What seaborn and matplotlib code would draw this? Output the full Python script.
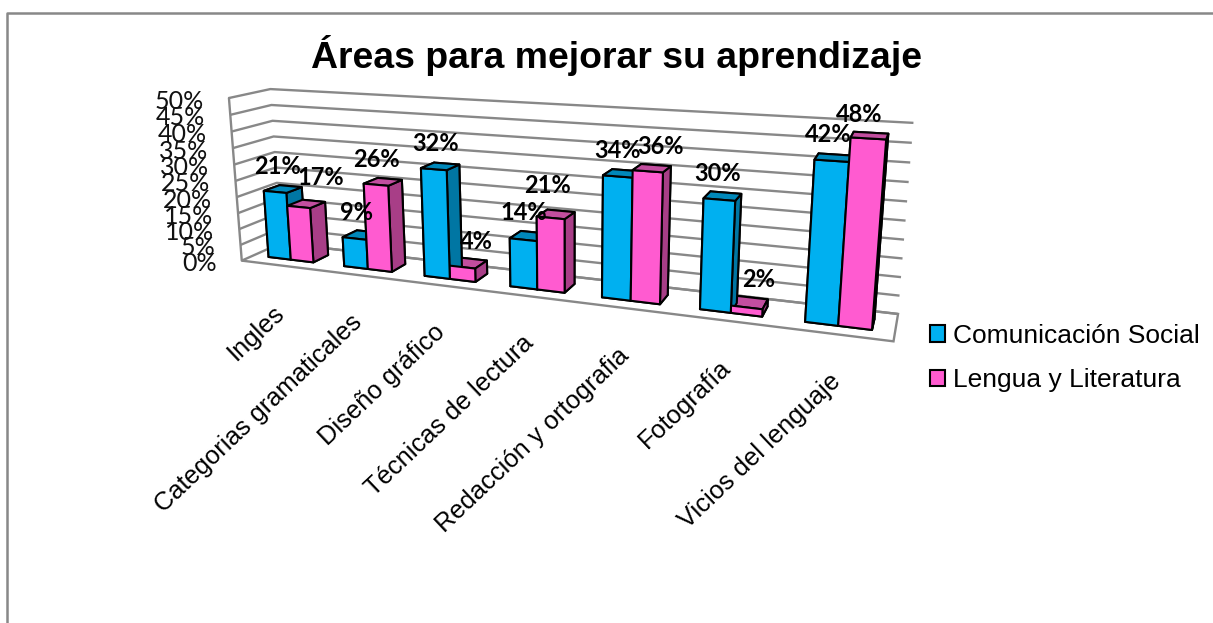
import numpy as np
import pandas as pd
import seaborn as sns
import matplotlib
matplotlib.use('Agg')
import matplotlib.pyplot as plt
from matplotlib.lines import Line2D
from matplotlib.patches import Patch
from mpl_toolkits.mplot3d import proj3d

# Data
categories = ['Ingles', 'Categorias gramaticales', 'Diseño gráfico', 'Técnicas de lectura',
              'Redacción y ortografia', 'Fotografía', 'Vicios del lenguaje']
comunicacion = [21, 9, 32, 14, 34, 30, 42]
lengua = [17, 26, 4, 21, 36, 2, 48]
series_names = ['Comunicación Social', 'Lengua y Literatura']
pct_ticks = [0, 5, 10, 15, 20, 25, 30, 35, 40, 45, 50]

# Camera fitted against the box corners of the picture
ELEV, AZIM, ROLL, FOCAL = 13.8663, -68.5778, 0.3632, 0.2776
ASPECT = (1, 0.107, 0.2639)
SCALE, TX, TY = 3740.25, 542.0, 199.05
W_PX, H_PX = 1213, 623

# pixel nudges of the data labels, second series sits unevenly in the original
label_dx = [[-5] * 7, [15, -6, 8, -8, 9, 9, -10]]
label_dy = [[23] * 7, [26, 22, 22, 29, 22, 23, 21]]

sns.set_theme(style='white')
plt.rcParams['font.family'] = ['Liberation Sans', 'DejaVu Sans']
front = sns.color_palette(['#00B0F0', '#FF5BD0'])
top = sns.color_palette(['#0088BA', '#C24E9F'])
side = sns.color_palette(['#0076A3', '#A83E87'])
grey = '#888888'

df = pd.DataFrame({'categoria': categories, series_names[0]: comunicacion, series_names[1]: lengua})
df = df.melt(id_vars='categoria', var_name='serie', value_name='pct')

fig = plt.figure(figsize=(W_PX / 100, H_PX / 100), dpi=100, facecolor='white')
ax = fig.add_axes([0, 0, 1, 1], projection='3d')
ax.set_xlim(0, 7)
ax.set_ylim(0, 1)
ax.set_zlim(0, 50)
ax.view_init(elev=ELEV, azim=AZIM, roll=ROLL)
ax.set_proj_type('persp', focal_length=FOCAL)
ax.set_box_aspect(ASPECT)

# place the square axes so the box lands where it does in the picture
vl = ax.viewLim
side_px = SCALE * vl.width
left = TX + SCALE * vl.x0
bottom = H_PX - (TY - SCALE * vl.y0)
ax.set_position([left / W_PX, bottom / H_PX, side_px / W_PX, SCALE * vl.height / H_PX])
ax.patch.set_visible(False)


def label_at(x, y, z, text, dx=0, dy=0, **kwargs):
    # text at a point of the 3d box, moved by some pixels on the screen
    sx, sy, _ = proj3d.proj_transform(x, y, z, ax.get_proj())
    ax.annotate(text, (sx, sy), xytext=(dx, dy), textcoords='offset pixels',
                annotation_clip=False, zorder=20, **kwargs)


# Walls and gridlines, only the floor keeps its outline
ax.set_xticks([])
ax.set_yticks([])
ax.set_zticks(pct_ticks)
ax.set_zticklabels([])
ax.grid(True)
for axis in [ax.xaxis, ax.yaxis, ax.zaxis]:
    axis.set_pane_color((1, 1, 1, 1))
    axis.pane.set_edgecolor('none')
    axis.line.set_color('none')
    axis._axinfo['grid'].update(color=grey, linewidth=1.7)
    axis._axinfo['tick'].update(inward_factor=0, outward_factor=0)
ax.zaxis.pane.set_edgecolor(grey)
ax.zaxis.pane.set_linewidth(1.7)
ax.plot([0, 0], [0, 0], [pct_ticks[0], pct_ticks[-1]], color=grey, linewidth=1.7, clip_on=False)

# Bars
bar_w = 0.30
bar_x, bar_h, face_colors = [], [], []
for s, name in enumerate(series_names):
    vals = df[df['serie'] == name]['pct'].values
    for i, v in enumerate(vals):
        bar_x.append(i + 0.2 + s * bar_w)
        bar_h.append(int(v))
        # order of faces: bottom, top, front, back, left, right
        face_colors += [side[s], top[s], front[s], side[s], side[s], side[s]]
        label_at(bar_x[-1] + bar_w / 2, 0.5, v, f'{v}%', dx=label_dx[s][i], dy=label_dy[s][i],
                 ha='center', va='center', family=['Lato', 'DejaVu Sans'], fontweight='bold',
                 fontsize=17, color='black')
bars = ax.bar3d(np.array(bar_x), 0.3, 0, bar_w, 0.4, bar_h, color=face_colors, shade=False,
                edgecolor='black', linewidth=1.5)
bars.set_clip_on(False)

# Percent axis labels
for v in pct_ticks:
    label_at(0, 0, v, f'{v}%', dx=-25, dy=-3, ha='right', va='center',
             family=['Lato', 'DejaVu Sans'], fontsize=18, color='#111111')

# Category labels
for i, c in enumerate(categories):
    label_at(i + 0.5, 0, 0, c, dx=-7, dy=-35, rotation=43.5, ha='right', va='top', rotation_mode='anchor',
             fontsize=18.4, color='black')

fig.suptitle('Áreas para mejorar su aprendizaje', x=0.508, y=1 - 56 / H_PX, va='center',
             fontsize=26.9, fontweight='bold', color='black')

handles = [Patch(facecolor=front[k], edgecolor='black', linewidth=1.5) for k in range(2)]
fig.legend(handles, series_names, loc='upper left', bbox_to_anchor=(922 / W_PX, 1 - 316 / H_PX), frameon=False,
           fontsize=19, handlelength=0.57, handleheight=0.57, handletextpad=0.3, labelspacing=0.78,
           borderaxespad=0, borderpad=0.3, labelcolor='black')

# chart frame
fig.add_artist(Line2D([7 / W_PX, 7 / W_PX, 1], [0, 1 - 13 / H_PX, 1 - 13 / H_PX], color=grey, linewidth=1.8))

fig.savefig('out.png', dpi=100)
